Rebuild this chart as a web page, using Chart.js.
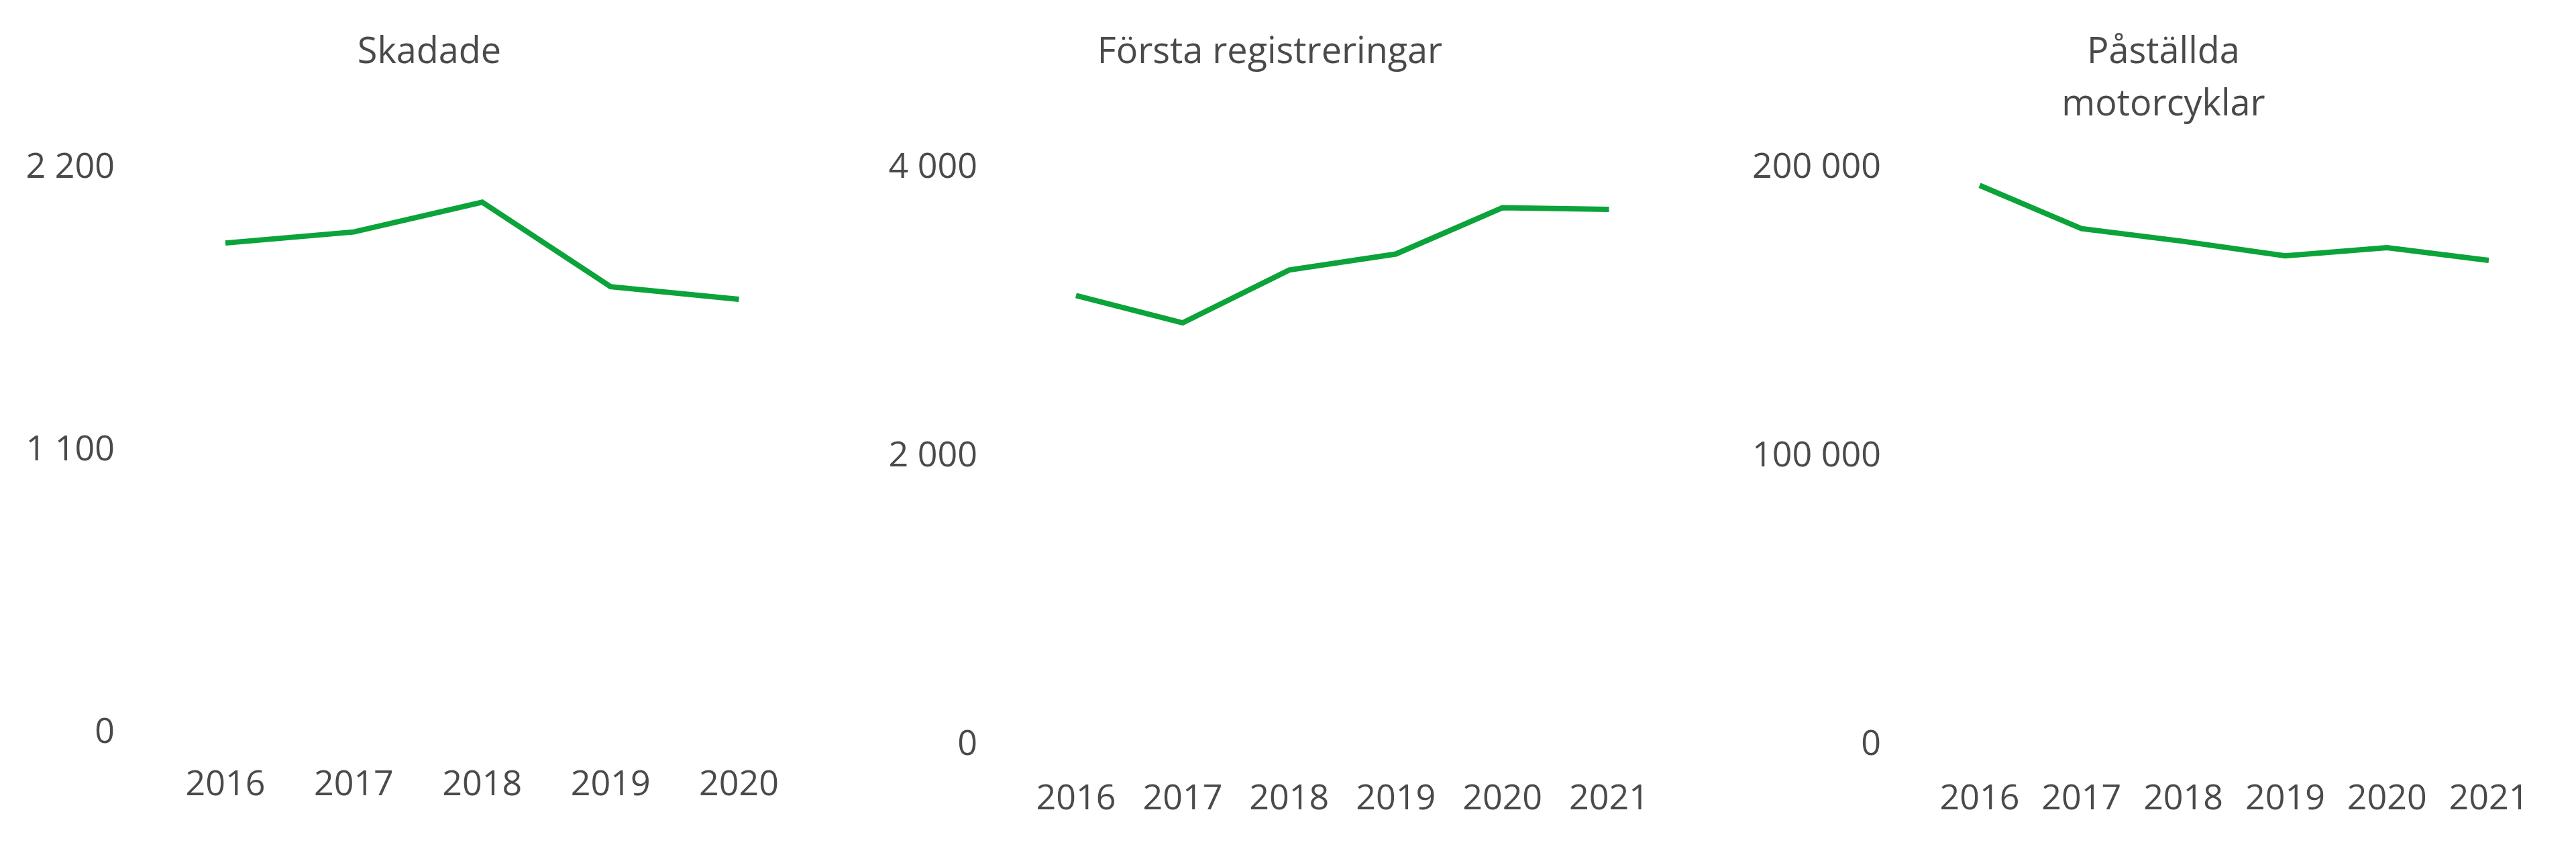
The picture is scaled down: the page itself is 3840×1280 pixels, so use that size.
<!DOCTYPE html>
<html>
<head>
<meta charset="utf-8">
<script src="https://cdn.jsdelivr.net/npm/chart.js@4"></script>
<style>
  body { margin: 0; width: 3840px; height: 1280px; background: #fff; overflow: hidden; font-family: "Open Sans", sans-serif; }
  .panel { position: absolute; top: 0; height: 1280px; }
  .title { position: absolute; color: #4a4a4a; font-size: 54px; line-height: 78px; text-align: center; transform: translateX(-50%); white-space: nowrap; }
</style>
</head>
<body>
<div class="title" style="left:640px; top:34px;">Skadade</div>
<div class="title" style="left:1893px; top:34px;">Första registreringar</div>
<div class="title" style="left:3225px; top:34px;">Påställda<br>motorcyklar</div>
<div class="panel" style="left:0; width:1200px;"><canvas id="c1"></canvas></div>
<div class="panel" style="left:1280px; width:1220px;"><canvas id="c2"></canvas></div>
<div class="panel" style="left:2560px; width:1280px;"><canvas id="c3"></canvas></div>
<script>
const yearsInjured = ['2016', '2017', '2018', '2019', '2020'];
const injured = [1907, 1950, 2066, 1737, 1688];
const injuredTicks = [0, 1100, 2200];

const yearsReg = ['2016', '2017', '2018', '2019', '2020', '2021'];
const firstReg = [3114, 2925, 3291, 3402, 3723, 3712];
const regTicks = [0, 2000, 4000];

const yearsActive = ['2016', '2017', '2018', '2019', '2020', '2021'];
const activeBikes = [193900, 178900, 174500, 169500, 172300, 167900];
const activeTicks = [0, 100000, 200000];

const grey = '#4a4a4a';
const green = '#0ba33a';
const fmt = v => String(v).replace(/\B(?=(\d{3})+(?!\d))/g, ' ');

function makeChart(id, labels, data, ticks, yWidth, yPad, rightPad, xHeight, xPad) {
  new Chart(document.getElementById(id), {
    type: 'line',
    data: { labels, datasets: [{ data, borderColor: green, borderWidth: 8, pointRadius: 0, tension: 0 }] },
    options: {
      responsive: false, animation: false, devicePixelRatio: 1,
      layout: { padding: { top: 250, right: rightPad, bottom: 0, left: 0 } },
      plugins: { legend: { display: false }, tooltip: { enabled: false } },
      scales: {
        x: {
          offset: false,
          grid: { display: false }, border: { display: false },
          ticks: { color: grey, font: { family: 'Open Sans', size: 52 }, padding: xPad, maxRotation: 0, autoSkip: false },
          afterFit: s => { s.height = xHeight; }
        },
        y: {
          min: ticks[0], max: ticks[ticks.length - 1],
          grid: { display: false }, border: { display: false },
          afterBuildTicks: s => { s.ticks = ticks.map(v => ({ value: v })); },
          ticks: { color: grey, font: { family: 'Open Sans', size: 52 }, padding: yPad, callback: v => fmt(v) },
          afterFit: s => { s.width = yWidth; }
        }
      }
    }
  });
}

for (const [id, w] of [['c1', 1200], ['c2', 1220], ['c3', 1280]]) {
  const c = document.getElementById(id);
  c.width = w; c.height = 1280;
}
makeChart('c1', yearsInjured, injured, injuredTicks, 336, 157, 24, 97, 39);
makeChart('c2', yearsReg, firstReg, regTicks, 324, 139, 75, 117, 42);
makeChart('c3', yearsActive, activeBikes, activeTicks, 391, 139, 130, 117, 42);
</script>
</body>
</html>
